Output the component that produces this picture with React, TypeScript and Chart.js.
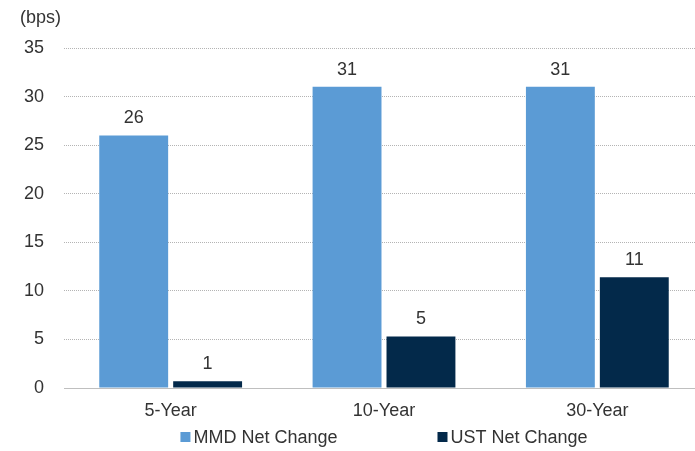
import React, { useEffect, useRef } from "react";
import { Chart, registerables } from "chart.js";

Chart.register(...registerables);

// Tenor buckets along the x axis
const categories = ["5-Year", "10-Year", "30-Year"];
// Net change in basis points
const mmdNetChange = [26, 31, 31];
const ustNetChange = [0.7, 5.3, 11.4];
const seriesNames = ["MMD Net Change", "UST Net Change"];
const seriesColors = ["#5b9bd5", "#03294a"];
const yTicks = { min: 0, max: 35, step: 5 };
const unitLabel = "(bps)";

const FONT = "'Liberation Sans', Arial, sans-serif";
const TEXT = "#333333";

const CANVAS_W = 768;
const CANVAS_H = 451;

// Rounded value labels above each bar
const valueLabels = {
  id: "valueLabels",
  afterDatasetsDraw(chart: any) {
    const { ctx } = chart;
    ctx.save();
    ctx.font = `18px ${FONT}`;
    ctx.fillStyle = TEXT;
    ctx.textAlign = "center";
    ctx.textBaseline = "middle";
    chart.data.datasets.forEach((ds: any, di: number) => {
      const meta = chart.getDatasetMeta(di);
      meta.data.forEach((bar: any, i: number) => {
        ctx.fillText(String(Math.round(ds.data[i])), bar.x, bar.y - 17);
      });
    });
    ctx.restore();
  },
};

// Unit caption in the top-left corner and a compact legend row below the axis
const annotations = {
  id: "annotations",
  afterDraw(chart: any) {
    const { ctx, chartArea } = chart;
    ctx.save();
    ctx.font = `18px ${FONT}`;
    ctx.fillStyle = TEXT;
    ctx.textBaseline = "middle";
    ctx.textAlign = "left";
    ctx.fillText(unitLabel, 20, 18);

    const box = 10;
    const gap = 3;
    const itemGap = 100;
    const widths = chart.data.datasets.map(
      (ds: any) => box + gap + ctx.measureText(ds.label).width
    );
    const total = widths.reduce((a: number, b: number) => a + b, 0) + itemGap * (widths.length - 1);
    let x = (chartArea.left + chartArea.right) / 2 - total / 2;
    const y = 438;
    chart.data.datasets.forEach((ds: any, i: number) => {
      ctx.fillStyle = ds.backgroundColor;
      ctx.fillRect(x, y - box / 2 - 1, box, box);
      ctx.fillStyle = TEXT;
      ctx.fillText(ds.label, x + box + gap, y);
      x += widths[i] + itemGap;
    });
    ctx.restore();
  },
};

export default function App() {
  const canvasRef = useRef<HTMLCanvasElement | null>(null);

  useEffect(() => {
    document.documentElement.style.overflow = "hidden";
    document.body.style.margin = "0";
    document.body.style.overflow = "hidden";
    const canvas = canvasRef.current;
    if (!canvas) return;
    const chart = new Chart(canvas, {
      type: "bar",
      data: {
        labels: categories,
        datasets: [
          {
            label: seriesNames[0],
            data: mmdNetChange,
            backgroundColor: seriesColors[0],
            categoryPercentage: 0.693,
            barPercentage: 0.932,
          },
          {
            label: seriesNames[1],
            data: ustNetChange,
            backgroundColor: seriesColors[1],
            categoryPercentage: 0.693,
            barPercentage: 0.932,
          },
        ],
      },
      options: {
        responsive: false,
        animation: false,
        layout: { padding: { top: 48, right: 64, bottom: 0, left: 0 } },
        plugins: {
          legend: { display: false },
          tooltip: { enabled: false },
          title: { display: false },
        },
        scales: {
          x: {
            grid: { display: false, drawTicks: false },
            border: { display: true, color: "#bfbfbf", width: 1 },
            ticks: {
              color: TEXT,
              font: { family: FONT, size: 18 },
              padding: 12,
            },
            afterFit: (s: any) => {
              s.height = 63;
            },
          },
          y: {
            min: yTicks.min,
            max: yTicks.max,
            grid: { color: "#b4b4b4", lineWidth: 1, drawTicks: false },
            border: { display: false, dash: [1, 1] },
            ticks: {
              stepSize: yTicks.step,
              color: TEXT,
              font: { family: FONT, size: 18 },
              padding: 20,
            },
            afterFit: (s: any) => {
              s.width = 64;
            },
          },
        },
      },
      plugins: [valueLabels, annotations],
    });
    return () => chart.destroy();
  }, []);

  return (
    <div style={{ position: "relative", width: CANVAS_W, height: CANVAS_H }}>
      <canvas ref={canvasRef} width={CANVAS_W} height={CANVAS_H} />
    </div>
  );
}
